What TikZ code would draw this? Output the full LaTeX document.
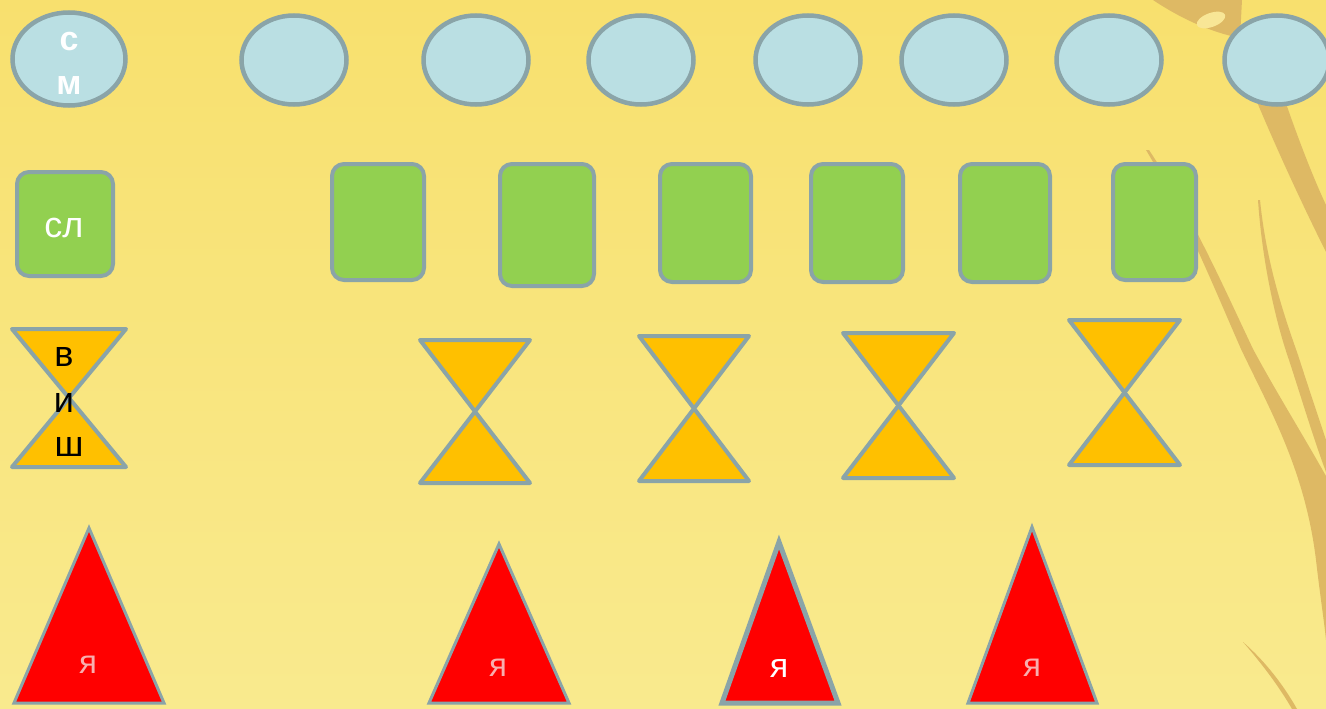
\documentclass[tikz,border=0pt]{standalone}
\usepackage{fontspec}
\setmainfont{Liberation Sans}
\usetikzlibrary{shapes.geometric}
\definecolor{bgtop}{RGB}{248,224,110}
\definecolor{bgbot}{RGB}{249,234,142}
\definecolor{edgegray}{RGB}{138,164,168}
\definecolor{skyfill}{RGB}{186,223,227}
\definecolor{grassfill}{RGB}{146,208,80}
\definecolor{amberfill}{RGB}{255,192,0}
\definecolor{redfill}{RGB}{255,0,0}
\definecolor{stalk}{RGB}{222,185,100}
\definecolor{stalklight}{RGB}{248,230,150}
\definecolor{fadedpink}{RGB}{248,175,175}
\tikzset{
  ovalbox/.style={ellipse, draw=edgegray, fill=skyfill, line width=4.5pt, inner sep=0pt},
  cardbox/.style={draw=edgegray, fill=grassfill, line width=4pt, rounded corners=12pt},
  glassbox/.style={draw=edgegray, fill=amberfill, line width=4pt, line join=round},
  conebox/.style={draw=edgegray, fill=redfill, line width=3pt, line join=miter},
  letterw/.style={text=white, font=\fontsize{34}{34}\selectfont\bfseries, inner sep=0pt},
  letterk/.style={text=black, font=\fontsize{36}{36}\selectfont, inner sep=0pt},
  letterp/.style={text=fadedpink, font=\fontsize{33}{33}\selectfont, inner sep=0pt},
}
\begin{document}
\begin{tikzpicture}[x=1pt,y=-1pt]
\useasboundingbox (0,0) rectangle (1326,709);
\shade[top color=bgtop, bottom color=bgbot] (0,0) rectangle (1326,709);
% decorative stalks
\fill[stalk] (1153,0) .. controls (1180,18) and (1210,32) .. (1240,38) -- (1242,0) -- cycle;
\fill[stalklight, rotate around={20:(1211,20)}] (1211,20) ellipse (15pt and 7pt);
\fill[stalk] (1228,28) .. controls (1250,90) and (1290,180) .. (1326,252)
  -- (1326,205) .. controls (1305,160) and (1282,95) .. (1262,30) -- cycle;
\fill[stalk] (1146,150) .. controls (1185,215) and (1215,290) .. (1241,349)
  .. controls (1270,410) and (1305,470) .. (1316,560)
  .. controls (1320,595) and (1324,620) .. (1326,640) -- (1326,476)
  .. controls (1300,430) and (1275,390) .. (1253,349)
  .. controls (1225,290) and (1192,215) .. (1149,150) -- cycle;
\fill[stalk] (1258,200) .. controls (1262,260) and (1275,320) .. (1289,360)
  .. controls (1302,400) and (1314,440) .. (1326,472) -- (1326,440)
  .. controls (1316,410) and (1306,380) .. (1298,355)
  .. controls (1282,310) and (1266,260) .. (1260,200) -- cycle;
\fill[stalk] (1243,642) .. controls (1263,665) and (1280,688) .. (1292,709) -- (1297,709)
  .. controls (1284,686) and (1266,662) .. cycle;
% ellipses
\node[ovalbox, minimum width=113pt, minimum height=93pt] (e1) at (69,59) {};
\foreach \n/\cx in {2/294,3/476,4/641,5/808,6/954,7/1109,8/1277}
  \node[ovalbox, minimum width=105pt, minimum height=89pt] (e\n) at (\cx,60) {};
\node[letterw] (e1a) at (69,42) {с};
\node[letterw] (e1b) at (69,86) {м};
% rounded rectangles
\draw[cardbox] (17,172) rectangle (113,276);
\draw[cardbox] (332,164) rectangle (424,280);
\draw[cardbox] (500,164) rectangle (594,286);
\draw[cardbox] (660,164) rectangle (751,282);
\draw[cardbox] (811,164) rectangle (903,282);
\draw[cardbox] (960,164) rectangle (1050,282);
\draw[cardbox] (1113,164) rectangle (1196,280);
\node[text=white, font=\fontsize{36}{36}\selectfont, inner sep=0pt] (r1a) at (64,228) {сл};
% hourglasses
\draw[glassbox] (12,329) -- (126,329) -- (12,467) -- (126,467) -- cycle;
\draw[glassbox] (420,340) -- (530,340) -- (420,483) -- (530,483) -- cycle;
\draw[glassbox] (639,336) -- (749,336) -- (639,481) -- (749,481) -- cycle;
\draw[glassbox] (843,333) -- (954,333) -- (843,478) -- (954,478) -- cycle;
\draw[glassbox] (1069,320) -- (1180,320) -- (1069,465) -- (1180,465) -- cycle;
\node[letterk] (h1a) at (64,357) {в};
\node[letterk] (h1b) at (64,403) {и};
\node[letterk] (h1c) at (69,447) {ш};
% triangles
\draw[conebox] (89,528) -- (164,703) -- (14,703) -- cycle;
\draw[conebox] (499,544) -- (569,703) -- (429,703) -- cycle;
\draw[conebox, line width=5pt] (779,542) -- (838,703) -- (722,703) -- cycle;
\draw[conebox] (1032,527) -- (1097,703) -- (968,703) -- cycle;
\node[letterp] (t1a) at (88,665) {я};
\node[letterp] (t2a) at (498,668) {я};
\node[text=white, font=\fontsize{34}{34}\selectfont, inner sep=0pt] (t3a) at (779,669) {я};
\node[letterp] (t4a) at (1032,668) {я};
\end{tikzpicture}
\end{document}
